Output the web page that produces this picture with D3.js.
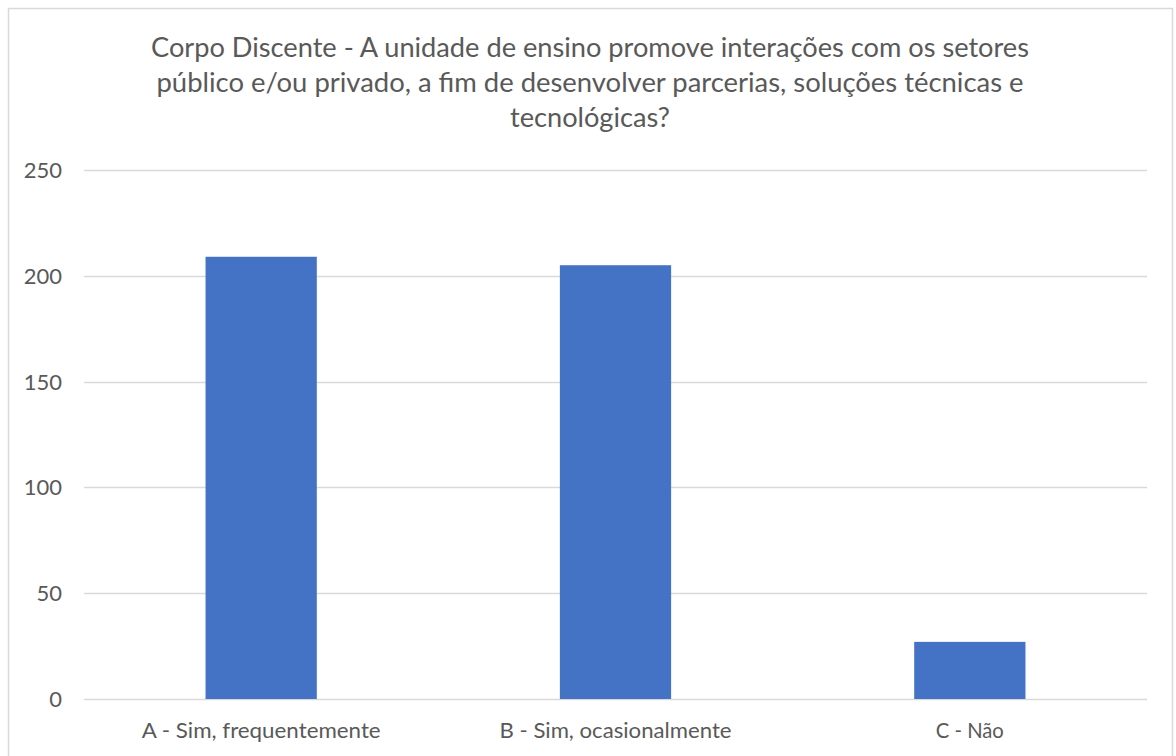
<!DOCTYPE html>
<html>
<head>
<meta charset="utf-8">
<script src="https://cdn.jsdelivr.net/npm/d3@7"></script>
<style>
  body { margin: 0; background: #fff; }
  svg text { font-family: Lato, "Open Sans", sans-serif; fill: #595959; }
</style>
</head>
<body>
<svg id="chart"></svg>
<script>
var categories = ["A - Sim, frequentemente", "B - Sim, ocasionalmente", "C - Não"];
var values = [209, 205, 27];
var yTicks = [0, 50, 100, 150, 200, 250];
var titleLines = [
    "Corpo Discente - A unidade de ensino promove interações com os setores",
    "público e/ou privado, a fim de desenvolver parcerias, soluções técnicas e",
    "tecnológicas?"
];

var settings = {
    width: 1176,
    height: 756,
    left: 84,
    right: 1147,
    top: 170,
    bottom: 699
};

// widths of the text in the reference (the original font is narrower/wider than ours)
var titleWidths = [878, 867, 160];
var catWidths = [239, 232, 68];

var svg = d3.select("#chart")
    .attr("width", settings.width)
    .attr("height", settings.height);

// chart frame
svg.append("rect")
    .attr("x", 8.5).attr("y", 8.5)
    .attr("width", 1164).attr("height", 760)
    .attr("fill", "#fff")
    .attr("stroke", "#d9d9d9")
    .attr("stroke-width", 1.5);

var x = d3.scaleBand()
    .domain(categories)
    .range([settings.left, settings.right])
    .paddingInner(0.686)
    .paddingOuter(0.343);

var y = d3.scaleLinear()
    .domain([0, 250])
    .range([settings.bottom, settings.top]);

// gridlines
svg.append("g")
    .selectAll("line")
    .data(yTicks)
    .enter()
    .append("line")
    .attr("x1", settings.left)
    .attr("x2", settings.right)
    .attr("y1", function (d) { return Math.round(y(d)) + 0.5; })
    .attr("y2", function (d) { return Math.round(y(d)) + 0.5; })
    .attr("stroke", "#d9d9d9")
    .attr("stroke-width", 1.3);

// y tick labels
svg.append("g")
    .selectAll("text")
    .data(yTicks)
    .enter()
    .append("text")
    .attr("x", 62)
    .attr("y", function (d) { return y(d) + 8; })
    .attr("text-anchor", "end")
    .style("font-size", "22px")
    .text(function (d) { return d; });

// bars
svg.append("g")
    .selectAll("rect")
    .data(values)
    .enter()
    .append("rect")
    .attr("x", function (d, i) { return x(categories[i]); })
    .attr("y", function (d) { return y(d); })
    .attr("width", x.bandwidth())
    .attr("height", function (d) { return y(0) - y(d); })
    .attr("fill", "#4472c4");

// category labels
svg.append("g")
    .selectAll("text")
    .data(categories)
    .enter()
    .append("text")
    .attr("x", function (d) { return x(d) + x.bandwidth() / 2; })
    .attr("y", 738)
    .attr("text-anchor", "middle")
    .attr("textLength", function (d, i) { return catWidths[i]; })
    .attr("lengthAdjust", "spacingAndGlyphs")
    .style("font-size", "21px")
    .text(function (d) { return d; });

// title
svg.append("g")
    .selectAll("text")
    .data(titleLines)
    .enter()
    .append("text")
    .attr("x", 590)
    .attr("y", function (d, i) { return 57 + i * 35; })
    .attr("text-anchor", "middle")
    .attr("textLength", function (d, i) { return titleWidths[i]; })
    .attr("lengthAdjust", "spacingAndGlyphs")
    .style("font-size", "26px")
    .text(function (d) { return d; });
</script>
</body>
</html>
